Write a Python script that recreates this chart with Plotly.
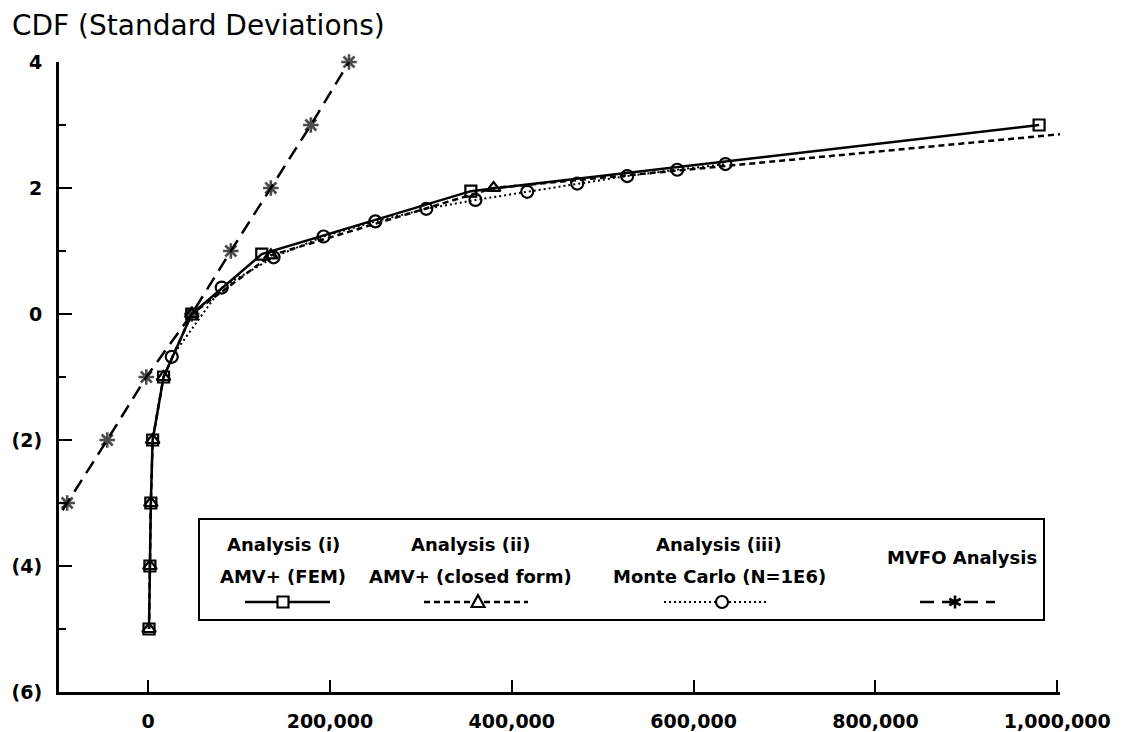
import plotly.graph_objects as go

# ---- data ----
fem_x = [1000, 2000, 3000, 5000, 17000, 48000, 125000, 355000, 980000]
fem_y = [-5, -4, -3, -2, -1, 0, 0.95, 1.95, 3.0]

cf_x = [1000, 2000, 3000, 5000, 17000, 48000, 135000, 380000, 1110000]
cf_y = [-5, -4, -3, -2, -1, 0, 0.93, 2.0, 3.0]

mc_x = [26000, 81000, 138000, 193000, 250000, 306000, 360000, 417000, 472000, 527000, 582000, 635000]
mc_y = [-0.68, 0.42, 0.9, 1.23, 1.47, 1.67, 1.81, 1.94, 2.07, 2.19, 2.29, 2.38]

mv_x = [-133000, -89000, -45000, -2000, 48000, 91000, 135000, 179000, 221000]
mv_y = [-4, -3, -2, -1, 0, 1, 2, 3, 4]

x_ticks = [0, 200000, 400000, 600000, 800000, 1000000]
x_labels = ["0", "200,000", "400,000", "600,000", "800,000", "1,000,000"]
y_ticks = [-6, -4, -2, 0, 2, 4]
y_labels = ["(6)", "(4)", "(2)", "0", "2", "4"]
y_minor = [-5, -3, -1, 1, 3]

legend_l1 = ["Analysis (i)", "Analysis (ii)", "Analysis (iii)"]
legend_l2 = ["AMV+ (FEM)", "AMV+ (closed form)", "Monte Carlo (N=1E6)"]
legend_mv = "MVFO Analysis"
title_text = "CDF (Standard Deviations)"

# ---- geometry (page pixels; the page body adds an 8px offset) ----
W, H = 1124, 732
OFF = 8
L, R, T, B = 59, 1060, 62, 692


def fx(p):
    return (p - L) / (R - L)


def fy(p):
    return (B - p) / (B - T)


FONT = "DejaVu Sans, Liberation Sans, sans-serif"
BLK = "black"

fig = go.Figure()

fig.add_trace(go.Scatter(
    x=cf_x, y=cf_y, mode="lines+markers", name="cf",
    line=dict(color=BLK, width=2.5, dash="6px,4px"),
    marker=dict(symbol="triangle-up-open", size=12, color=BLK, line=dict(width=2.2, color=BLK)),
))
fig.add_trace(go.Scatter(
    x=mc_x, y=mc_y, mode="lines+markers", name="mc",
    line=dict(color=BLK, width=2, dash="2px,3px"),
    marker=dict(symbol="circle-open", size=12, color=BLK, line=dict(width=2.2, color=BLK)),
))
fig.add_trace(go.Scatter(
    x=fem_x, y=fem_y, mode="lines+markers", name="fem",
    line=dict(color=BLK, width=2.5),
    marker=dict(symbol="square-open", size=11, color=BLK, line=dict(width=2.2, color=BLK)),
))
fig.add_trace(go.Scatter(
    x=mv_x, y=mv_y, mode="lines+markers", name="mv",
    line=dict(color=BLK, width=2.5, dash="14px,8px"),
    marker=dict(symbol="asterisk-open", size=[0] + [13] * (len(mv_x) - 1), color=BLK,
                line=dict(width=2.6, color=BLK)),
    cliponaxis=False,
))

fig.update_layout(
    width=W, height=H,
    margin=dict(l=L - OFF, r=W - (R - OFF), t=T - OFF, b=H - (B - OFF), pad=0),
    paper_bgcolor="white", plot_bgcolor="white",
    showlegend=False,
    font=dict(family=FONT, color=BLK),
)

fig.update_xaxes(
    range=[-98000, 1003000], showgrid=False, zeroline=False, automargin=False,
    showline=True, linecolor=BLK, linewidth=3,
    ticks="inside", ticklen=12, tickwidth=2, tickcolor=BLK,
    tickvals=x_ticks, ticktext=x_labels,
    tickfont=dict(family=FONT, size=19, color=BLK, weight="bold"),
    ticklabelstandoff=10,
)
fig.update_yaxes(
    range=[-6, 4], showgrid=False, zeroline=False, automargin=False,
    showline=True, linecolor=BLK, linewidth=3,
    ticks="inside", ticklen=13, tickwidth=2, tickcolor=BLK,
    tickvals=y_ticks, ticktext=y_labels,
    tickfont=dict(family=FONT, size=19, color=BLK, weight="bold"),
    ticklabelstandoff=10,
    minor=dict(tickvals=y_minor, ticks="inside", ticklen=7, tickwidth=2, tickcolor=BLK),
)

ann = []
ann.append(dict(text=title_text, xref="paper", yref="paper", x=fx(10), y=fy(26),
                xanchor="left", yanchor="middle", showarrow=False,
                font=dict(family=FONT, size=28, color=BLK)))

col_cx = [283, 470, 719]
LFS = 18
for cx, a, b in zip(col_cx, legend_l1, legend_l2):
    ann.append(dict(text=a, xref="paper", yref="paper", x=fx(cx), y=fy(544),
                    xanchor="center", yanchor="middle", showarrow=False,
                    font=dict(family=FONT, size=LFS, color=BLK, weight="bold")))
    ann.append(dict(text=b, xref="paper", yref="paper", x=fx(cx), y=fy(576),
                    xanchor="center", yanchor="middle", showarrow=False,
                    font=dict(family=FONT, size=LFS, color=BLK, weight="bold")))
ann.append(dict(text=legend_mv, xref="paper", yref="paper", x=fx(962), y=fy(557),
                xanchor="center", yanchor="middle", showarrow=False,
                font=dict(family=FONT, size=LFS, color=BLK, weight="bold")))
fig.update_layout(annotations=ann)

shapes = []
# legend frame
shapes.append(dict(type="rect", xref="paper", yref="paper",
                   x0=fx(199), x1=fx(1044), y0=fy(620), y1=fy(519),
                   line=dict(color=BLK, width=2), fillcolor="white", layer="above"))
sy = 602
# sample lines
shapes.append(dict(type="line", xref="paper", yref="paper", x0=fx(245), x1=fx(330), y0=fy(sy), y1=fy(sy),
                   line=dict(color=BLK, width=2.5), layer="above"))
shapes.append(dict(type="line", xref="paper", yref="paper", x0=fx(424), x1=fx(528), y0=fy(sy), y1=fy(sy),
                   line=dict(color=BLK, width=2.5, dash="6px,4px"), layer="above"))
shapes.append(dict(type="line", xref="paper", yref="paper", x0=fx(664), x1=fx(766), y0=fy(sy), y1=fy(sy),
                   line=dict(color=BLK, width=2, dash="2px,3px"), layer="above"))
shapes.append(dict(type="line", xref="paper", yref="paper", x0=fx(920), x1=fx(995), y0=fy(sy), y1=fy(sy),
                   line=dict(color=BLK, width=2.5, dash="14px,8px"), layer="above"))
# sample markers
s = 5.5
shapes.append(dict(type="rect", xref="paper", yref="paper",
                   x0=fx(283 - s), x1=fx(283 + s), y0=fy(sy + s), y1=fy(sy - s),
                   line=dict(color=BLK, width=2.2), fillcolor="white", layer="above"))
tx = 478
shapes.append(dict(type="path", xref="paper", yref="paper",
                   path=f"M {fx(tx - 6.5)} {fy(sy + 5)} L {fx(tx + 6.5)} {fy(sy + 5)} L {fx(tx)} {fy(sy - 7)} Z",
                   line=dict(color=BLK, width=2.2), fillcolor="white", layer="above"))
cx = 722
shapes.append(dict(type="circle", xref="paper", yref="paper",
                   x0=fx(cx - 6), x1=fx(cx + 6), y0=fy(sy + 6), y1=fy(sy - 6),
                   line=dict(color=BLK, width=2.2), fillcolor="white", layer="above"))
ax = 955
a = 6.5
shapes.append(dict(type="path", xref="paper", yref="paper",
                   path=(f"M {fx(ax)} {fy(sy - a)} L {fx(ax)} {fy(sy + a)} "
                         f"M {fx(ax - a * 0.87)} {fy(sy - a / 2)} L {fx(ax + a * 0.87)} {fy(sy + a / 2)} "
                         f"M {fx(ax - a * 0.87)} {fy(sy + a / 2)} L {fx(ax + a * 0.87)} {fy(sy - a / 2)}"),
                   line=dict(color=BLK, width=2.6), layer="above"))
fig.update_layout(shapes=shapes)

fig.write_html("out.html")
